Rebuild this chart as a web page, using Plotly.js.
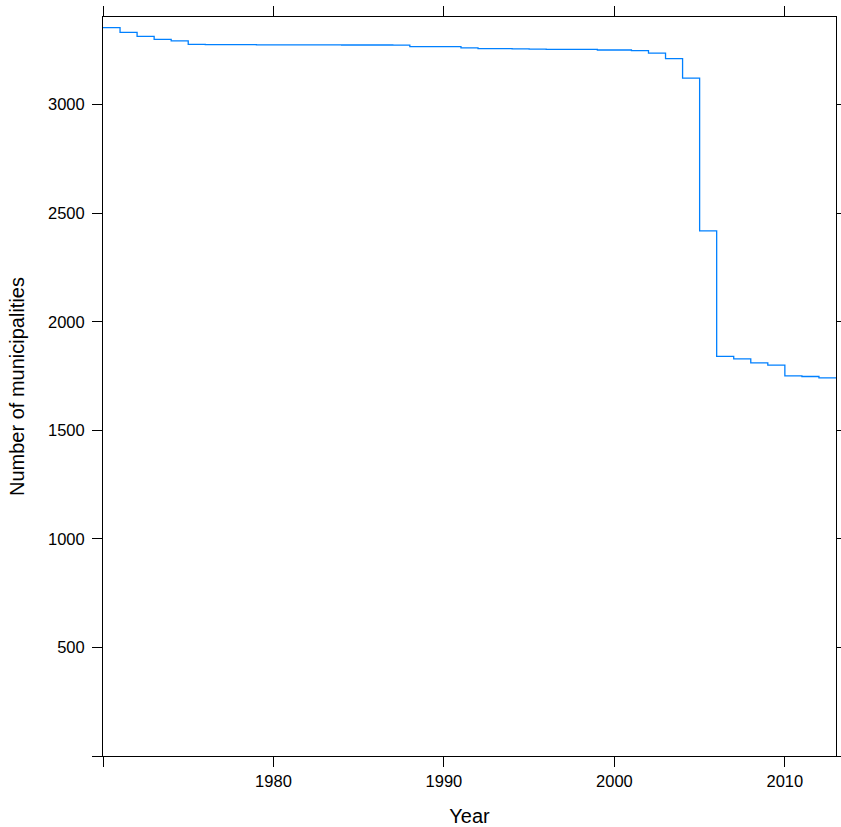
<!DOCTYPE html>
<html>
<head>
<meta charset="utf-8">
<script src="https://cdn.plot.ly/plotly-3.0.1.min.js"></script>
<style>html,body{margin:0;padding:0;background:#fff;}</style>
</head>
<body>
<div id="chart" style="width:841px;height:827px;"></div>
<script>
const years = [1970,1971,1972,1973,1974,1975,1976,1977,1978,1979,
               1980,1981,1982,1983,1984,1985,1986,1987,1988,1989,
               1990,1991,1992,1993,1994,1995,1996,1997,1998,1999,
               2000,2001,2002,2003,2004,2005,2006,2007,2008,2009,
               2010,2011,2012,2013];
const municipalities = [3355,3333,3315,3301,3294,3278,3277,3277,3277,3276,
                        3276,3276,3276,3276,3275,3275,3275,3274,3268,3268,
                        3268,3262,3258,3258,3257,3256,3255,3255,3255,3252,
                        3252,3249,3238,3212,3122,2419,1841,1829,1811,1800,
                        1751,1748,1742,1742];
const xTickVals = [1970,1980,1990,2000,2010];
const xTickText = ['','1980','1990','2000','2010'];
const yTickVals = [0,500,1000,1500,2000,2500,3000];
const yTickText = ['','500','1000','1500','2000','2500','3000'];

const font = {family: 'Liberation Sans, Arial, sans-serif', color: '#000'};

Plotly.newPlot('chart', [{
  x: years, y: municipalities, type: 'scatter', mode: 'lines',
  line: {shape: 'hv', color: '#0080ff', width: 1.3},
  hoverinfo: 'skip'
}], {
  width: 841, height: 827,
  margin: {l: 103, r: 5, t: 17, b: 71},
  paper_bgcolor: '#fff', plot_bgcolor: '#fff',
  showlegend: false,
  font: font,
  xaxis: {
    range: [1970, 2013], tickmode: 'array', tickvals: xTickVals, ticktext: xTickText,
    ticks: 'outside', ticklen: 10, tickwidth: 1, tickcolor: '#000',
    showline: true, linecolor: '#000', linewidth: 1, mirror: 'allticks',
    showgrid: false, zeroline: false,
    tickfont: {family: font.family, size: 16.5, color: '#000'},
    title: {text: 'Year', font: {family: font.family, size: 20, color: '#000'}, standoff: 22}
  },
  yaxis: {
    range: [0, 3404], tickmode: 'array', tickvals: yTickVals, ticktext: yTickText,
    ticks: 'outside', ticklen: 10, tickwidth: 1, tickcolor: '#000',
    ticklabelstandoff: 4,
    showline: true, linecolor: '#000', linewidth: 1, mirror: 'allticks',
    showgrid: false, zeroline: false,
    tickfont: {family: font.family, size: 16.5, color: '#000'},
    title: {text: 'Number of municipalities', font: {family: font.family, size: 20, color: '#000'}, standoff: 17}
  }
}, {displayModeBar: false, staticPlot: true});
</script>
</body>
</html>
